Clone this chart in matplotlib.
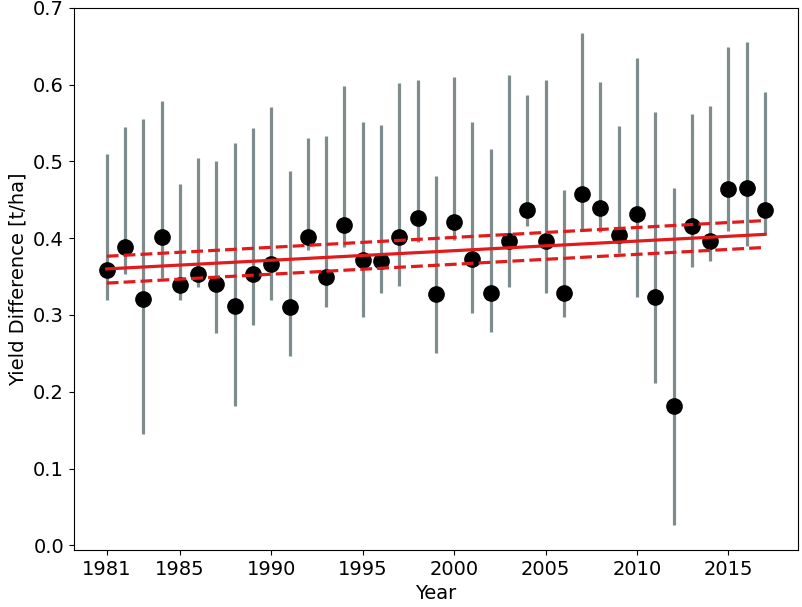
import matplotlib
matplotlib.use("Agg")
import matplotlib.pyplot as plt
import numpy as np

# yearly yield difference (mean) with lower / upper ends of the range
years = np.arange(1981, 2018)
mean = [0.358, 0.389, 0.321, 0.402, 0.339, 0.354, 0.340, 0.312, 0.354, 0.367,
        0.311, 0.401, 0.350, 0.417, 0.371, 0.370, 0.402, 0.426, 0.327, 0.421,
        0.373, 0.328, 0.396, 0.437, 0.396, 0.328, 0.457, 0.439, 0.404, 0.431,
        0.324, 0.181, 0.416, 0.396, 0.464, 0.466, 0.437]
low = [0.320, 0.353, 0.145, 0.348, 0.319, 0.336, 0.276, 0.182, 0.287, 0.319,
       0.246, 0.385, 0.311, 0.388, 0.298, 0.328, 0.338, 0.395, 0.250, 0.398,
       0.303, 0.278, 0.337, 0.416, 0.328, 0.298, 0.411, 0.408, 0.381, 0.324,
       0.212, 0.026, 0.362, 0.370, 0.409, 0.390, 0.406]
high = [0.510, 0.545, 0.555, 0.579, 0.470, 0.505, 0.501, 0.524, 0.544, 0.571,
        0.488, 0.531, 0.533, 0.598, 0.551, 0.547, 0.602, 0.606, 0.481, 0.610,
        0.551, 0.516, 0.612, 0.586, 0.606, 0.463, 0.667, 0.604, 0.546, 0.635,
        0.564, 0.466, 0.562, 0.572, 0.649, 0.656, 0.590]

# linear trend with its confidence band, at the first and last year
fit_years = [1981, 2017]
fit = [0.360, 0.405]
fit_upper = [0.3765, 0.423]
fit_lower = [0.3415, 0.388]

xticks = [1981, 1985, 1990, 1995, 2000, 2005, 2010, 2015]

plt.rcParams["font.family"] = ["DejaVu Sans"]
plt.rcParams["font.size"] = 14

fig = plt.figure(figsize=(8.02, 6.07), dpi=100)
ax = fig.add_axes([0.092, 0.094, 0.903, 0.893])

mean = np.array(mean)
yerr = np.array([mean - np.array(low), np.array(high) - mean])
ax.errorbar(years, mean, yerr=yerr, fmt="o", color="black", markersize=11,
            ecolor="#7f8c8d", elinewidth=2.3, capsize=0, zorder=2)

red = "#e31a1c"
ax.plot(fit_years, fit, color=red, lw=2.3, zorder=3)
ax.plot(fit_years, fit_upper, color=red, lw=2.3, ls="--", zorder=3)
ax.plot(fit_years, fit_lower, color=red, lw=2.3, ls="--", zorder=3)

ax.set_ylim(top=0.7)
ax.set_xticks(xticks)
ax.set_yticks(np.arange(0, 0.71, 0.1))
ax.yaxis.set_major_formatter(matplotlib.ticker.FormatStrFormatter("%.1f"))
ax.set_xlabel("Year")
ax.set_ylabel("Yield Difference [t/ha]")

fig.savefig("out.png", dpi=100)
